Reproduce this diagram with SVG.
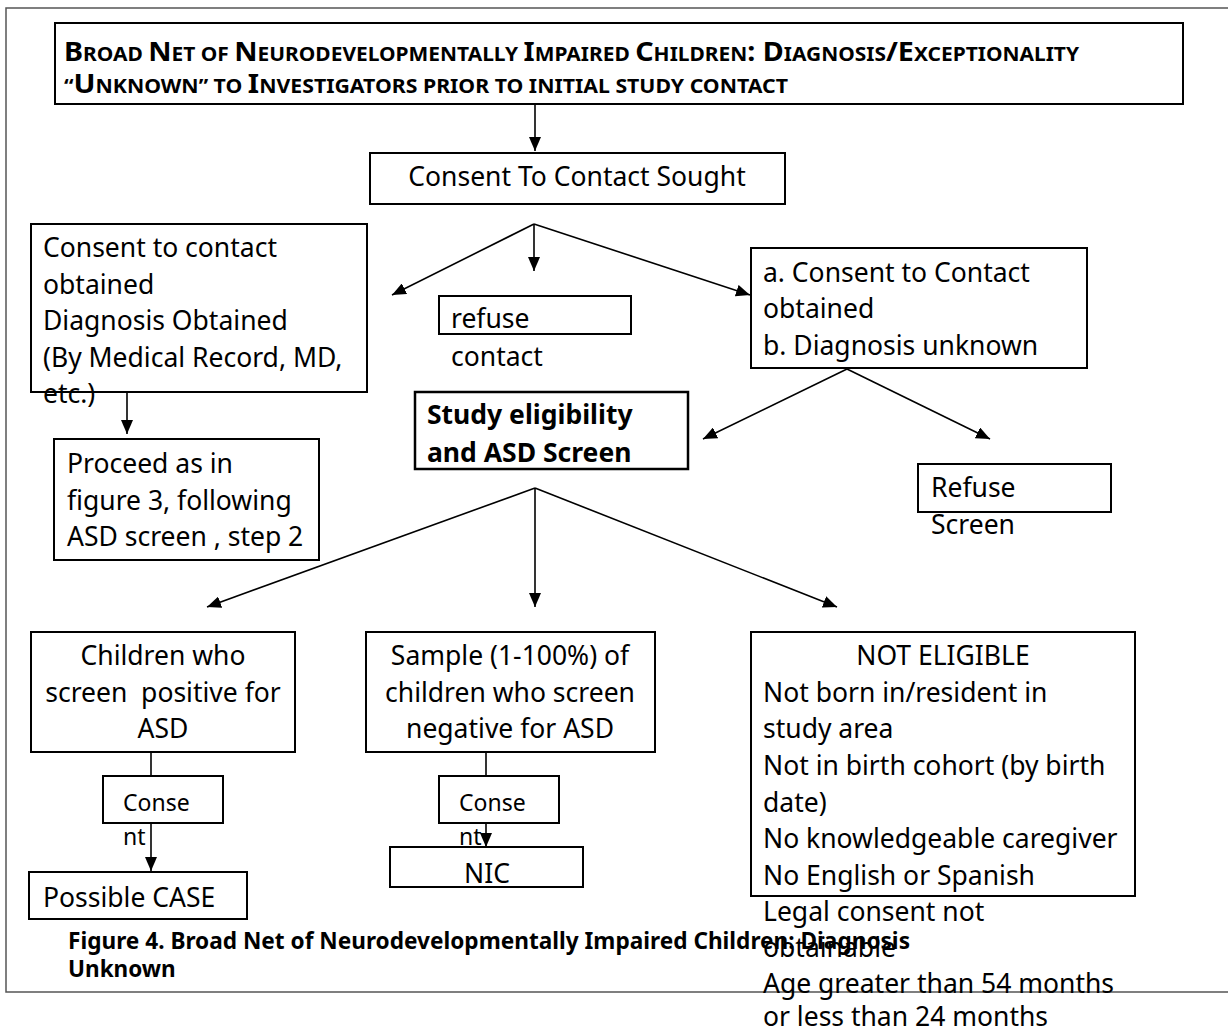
<svg xmlns="http://www.w3.org/2000/svg" width="1228" height="1032" viewBox="0 0 1228 1032">
<defs>
<marker id="ah" viewBox="0 0 14 12" refX="14" refY="6" markerWidth="14" markerHeight="12" markerUnits="userSpaceOnUse" orient="auto">
<path d="M0,0 L14,6 L0,12 z" fill="#000"/>
</marker>
<style>
.box{fill:#fff;stroke:#000;stroke-width:2}
.bx2{fill:#fff;stroke:#000;stroke-width:2.5}
.t{font-family:"Noto Sans","Open Sans",sans-serif;font-size:26.5px;fill:#000}
.s{font-size:23px}
.b{font-weight:bold}
.c{text-anchor:middle}
.tt{font-family:"Noto Sans","Open Sans",sans-serif;font-weight:bold;fill:#000}
.sm{font-size:19px}
.bg{font-size:26px}
.cap{font-family:"Noto Sans","Open Sans",sans-serif;font-weight:bold;font-size:22.5px;fill:#000}
.con line{stroke:#000;stroke-width:1.6}
.frame{stroke:#555;stroke-width:1.5;fill:none}
</style>
</defs>
<rect width="1228" height="1032" fill="#fff"/>
<path class="frame" d="M1228,8 H6 V992 H1228"/>

<g id="title">
<rect class="box" x="55" y="23" width="1128" height="81"/>
<text class="tt" x="64" y="61" textLength="1015" lengthAdjust="spacingAndGlyphs"><tspan class="bg">B</tspan><tspan class="sm">ROAD </tspan><tspan class="bg">N</tspan><tspan class="sm">ET OF </tspan><tspan class="bg">N</tspan><tspan class="sm">EURODEVELOPMENTALLY </tspan><tspan class="bg">I</tspan><tspan class="sm">MPAIRED </tspan><tspan class="bg">C</tspan><tspan class="sm">HILDREN</tspan><tspan class="bg">: D</tspan><tspan class="sm">IAGNOSIS</tspan><tspan class="bg">/E</tspan><tspan class="sm">XCEPTIONALITY</tspan></text>
<text class="tt" x="64" y="93" textLength="724" lengthAdjust="spacingAndGlyphs"><tspan class="sm">“</tspan><tspan class="bg">U</tspan><tspan class="sm">NKNOWN” TO </tspan><tspan class="bg">I</tspan><tspan class="sm">NVESTIGATORS PRIOR TO INITIAL STUDY CONTACT</tspan></text>
</g>

<g id="consent-sought">
<rect class="box" x="370" y="153" width="415" height="51"/>
<text class="t c" x="577" y="186">Consent To Contact Sought</text>
</g>

<g id="consent-obtained-dx">
<rect class="box" x="31" y="224" width="336" height="168"/>
<text class="t" x="43" y="257">Consent to contact</text>
<text class="t" x="43" y="294">obtained</text>
<text class="t" x="43" y="330">Diagnosis Obtained</text>
<text class="t" x="43" y="367">(By Medical Record, MD,</text>
<text class="t" x="43" y="403">etc.)</text>
</g>

<g id="refuse-contact">
<rect class="box" x="439" y="296" width="192" height="38"/>
<text class="t" x="451" y="328">refuse</text>
<text class="t" x="451" y="366">contact</text>
</g>

<g id="consent-obtained-unknown">
<rect class="box" x="751" y="248" width="336" height="120"/>
<text class="t" x="763" y="282">a. Consent to Contact</text>
<text class="t" x="763" y="318">obtained</text>
<text class="t" x="763" y="355">b. Diagnosis unknown</text>
</g>

<g id="proceed">
<rect class="box" x="54" y="439" width="265" height="121"/>
<text class="t" x="67" y="473">Proceed as in</text>
<text class="t" x="67" y="510">figure 3, following</text>
<text class="t" x="67" y="546">ASD screen , step 2</text>
</g>

<g id="study-eligibility">
<rect class="bx2" x="415" y="392" width="273" height="77"/>
<text class="t b" x="427" y="424">Study eligibility</text>
<text class="t b" x="427" y="462">and ASD Screen</text>
</g>

<g id="refuse-screen">
<rect class="box" x="918" y="464" width="193" height="48"/>
<text class="t" x="931" y="497">Refuse</text>
<text class="t" x="931" y="534">Screen</text>
</g>

<g id="screen-positive">
<rect class="box" x="31" y="632" width="264" height="120"/>
<text class="t c" x="163" y="665">Children who</text>
<text class="t c" x="163" y="702" xml:space="preserve">screen  positive for</text>
<text class="t c" x="163" y="738">ASD</text>
</g>

<g id="screen-negative">
<rect class="box" x="366" y="632" width="289" height="120"/>
<text class="t c" x="510" y="665">Sample (1-100%) of</text>
<text class="t c" x="510" y="702">children who screen</text>
<text class="t c" x="510" y="738">negative for ASD</text>
</g>

<g id="not-eligible">
<rect class="box" x="751" y="632" width="384" height="264"/>
<text class="t c" x="943" y="665">NOT ELIGIBLE</text>
<text class="t" x="763" y="702">Not born in/resident in</text>
<text class="t" x="763" y="738">study area</text>
<text class="t" x="763" y="775">Not in birth cohort (by birth</text>
<text class="t" x="763" y="812">date)</text>
<text class="t" x="763" y="848">No knowledgeable caregiver</text>
<text class="t" x="763" y="885">No English or Spanish</text>
<text class="t" x="763" y="921">Legal consent not</text>
<text class="t" x="763" y="957">obtainable</text>
<text class="t" x="763" y="993">Age greater than 54 months</text>
<text class="t" x="763" y="1026">or less than 24 months</text>
</g>

<g id="consent-1">
<rect class="box" x="103" y="776" width="120" height="47"/>
<text class="t s" x="123" y="811">Conse</text>
<text class="t s" x="123" y="845">nt</text>
</g>

<g id="consent-2">
<rect class="box" x="439" y="776" width="120" height="47"/>
<text class="t s" x="459" y="811">Conse</text>
<text class="t s" x="459" y="845">nt</text>
</g>

<g id="possible-case">
<rect class="box" x="29" y="872" width="218" height="47"/>
<text class="t" x="43" y="907">Possible CASE</text>
</g>

<g id="nic">
<rect class="box" x="390" y="847" width="193" height="40"/>
<text class="t c" x="487" y="883">NIC</text>
</g>

<g id="caption">
<text class="cap" x="68" y="949" textLength="842" lengthAdjust="spacingAndGlyphs">Figure 4. Broad Net of Neurodevelopmentally Impaired Children: Diagnosis</text>
<text class="cap" x="68" y="977">Unknown</text>
</g>

<g id="connectors" class="con">
<line x1="535" y1="104" x2="535" y2="151" marker-end="url(#ah)"/>
<line x1="534" y1="224" x2="392" y2="295" marker-end="url(#ah)"/>
<line x1="534" y1="224" x2="534" y2="271" marker-end="url(#ah)"/>
<line x1="534" y1="224" x2="750" y2="295" marker-end="url(#ah)"/>
<line x1="127" y1="392" x2="127" y2="434" marker-end="url(#ah)"/>
<line x1="847" y1="369" x2="703" y2="439" marker-end="url(#ah)"/>
<line x1="847" y1="369" x2="990" y2="439" marker-end="url(#ah)"/>
<line x1="535" y1="488" x2="207" y2="607" marker-end="url(#ah)"/>
<line x1="535" y1="488" x2="535" y2="607" marker-end="url(#ah)"/>
<line x1="535" y1="488" x2="837" y2="607" marker-end="url(#ah)"/>
<line x1="151" y1="752" x2="151" y2="776"/>
<line x1="151" y1="823" x2="151" y2="871" marker-end="url(#ah)"/>
<line x1="486" y1="752" x2="486" y2="776"/>
<line x1="486" y1="823" x2="486" y2="847" marker-end="url(#ah)"/>
</g>
</svg>
